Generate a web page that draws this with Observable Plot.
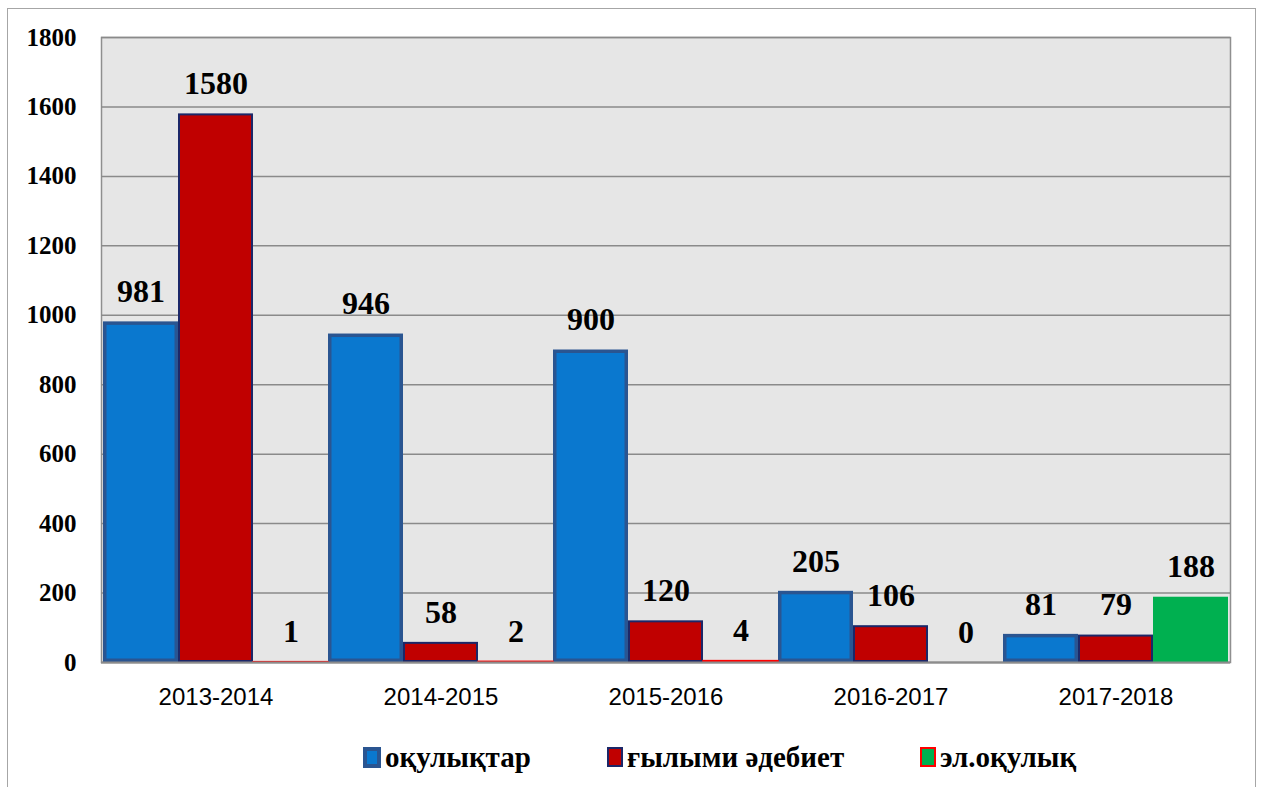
<!DOCTYPE html>
<html>
<head>
<meta charset="utf-8">
<script src="https://cdn.jsdelivr.net/npm/d3@7"></script>
<script src="https://cdn.jsdelivr.net/npm/@observablehq/plot@0.6"></script>
<style>
  html, body { margin: 0; padding: 0; background: #fff; }
  #wrap { position: relative; width: 1261px; height: 787px; overflow: hidden; }
  #border { position: absolute; left: 7px; top: 8px; width: 1249px; height: 800px; border: 1px solid #a6a6a6; box-sizing: border-box; }
  #chart { position: absolute; left: 0; top: 0; }
  #chart svg g[aria-label="y-axis tick label"],
  #chart svg g[aria-label="y-axis tick label"] text {
    font-family: "Liberation Serif", "Times New Roman", "DejaVu Serif", serif !important;
    font-weight: bold !important; font-size: 25px !important; fill: #000 !important;
  }
  #chart svg g[aria-label="x-axis tick label"],
  #chart svg g[aria-label="x-axis tick label"] text {
    font-family: "Liberation Sans", Arial, sans-serif !important;
    font-size: 24px !important; fill: #000 !important;
  }
  #legend { position: absolute; top: 741px; left: 0; width: 1261px; height: 32px; color: #000; }
  .item { position: absolute; top: 0; display: flex; align-items: center; height: 32px; white-space: nowrap; }
  .lbl { font-family: "Liberation Serif", "Times New Roman", "DejaVu Serif", serif; font-weight: bold; font-size: 29px; }
  .sw { display: inline-block; box-sizing: border-box; margin-right: 4px; }
</style>
</head>
<body>
<div id="wrap">
  <div id="border"></div>
  <div id="chart"></div>
  <div id="legend"></div>
</div>
<script>
const years = ["2013-2014", "2014-2015", "2015-2016", "2016-2017", "2017-2018"];
const seriesNames = ["оқулықтар", "ғылыми әдебиет", "эл.оқулық"];
const textbooks = [981, 946, 900, 205, 81];
const scientific = [1580, 58, 120, 106, 79];
const electronic = [1, 2, 4, 0, 188];
const yTicks = [0, 200, 400, 600, 800, 1000, 1200, 1400, 1600, 1800];

const fills = ["#0a78cf", "#c00000", "#00b050"];
const strokes = ["#2a5591", "#1c2768", "#ff0000"];

const valuesBySeries = [textbooks, scientific, electronic];
const data = [];
years.forEach((yr, i) => {
  seriesNames.forEach((s, j) => {
    data.push({year: yr, series: s, key: yr + "|" + s, value: valuesBySeries[j][i]});
  });
});
const keys = data.map(d => d.key);

const serif = "Liberation Serif, Times New Roman, DejaVu Serif, serif";

const chart = Plot.plot({
  width: 1261,
  height: 735,
  marginLeft: 101,
  marginRight: 31,
  marginTop: 37,
  marginBottom: 73,
  style: {background: "transparent"},
  x: {domain: keys, padding: 0, label: null, tickSize: 0, tickPadding: 25,
      tickFormat: k => k.endsWith("|" + seriesNames[1]) ? k.split("|")[0] : ""},
  y: {domain: [0, 1800], ticks: yTicks, label: null, tickSize: 0, tickPadding: 25,
      tickFormat: d => String(d)},
  marks: [
    Plot.frame({fill: "#e6e6e6", stroke: "#8f8f8f", strokeWidth: 1.5}),
    Plot.gridY(yTicks, {stroke: "#8a8a8a", strokeOpacity: 1, strokeWidth: 1.5}),
    Plot.barY(data.filter(d => d.series === seriesNames[0]), {
      x: "key", y: "value", fill: fills[0], stroke: strokes[0], strokeWidth: 3.5, inset: 1.75
    }),
    Plot.barY(data.filter(d => d.series === seriesNames[1]), {
      x: "key", y: "value", fill: fills[1], stroke: strokes[1], strokeWidth: 2, inset: 1
    }),
    Plot.barY(data.filter(d => d.series === seriesNames[2] && d.value >= 10), {
      x: "key", y: "value", fill: fills[2]
    }),
    Plot.barY(data.filter(d => d.series === seriesNames[2] && d.value < 10 && d.value > 0), {
      x: "key", y: "value", fill: fills[2], stroke: "#ff0000", strokeWidth: 1.5
    }),
    Plot.ruleY([0], {stroke: "#8c8c8c", strokeWidth: 2}),
    Plot.text(data, {
      x: "key", y: "value", text: d => String(d.value), dy: -30,
      fontFamily: serif, fontWeight: "bold", fontSize: 32, fill: "#000"
    })
  ]
});
document.getElementById("chart").appendChild(chart);

// legend
const legend = document.getElementById("legend");
const legendPos = [363, 607, 920];
const swatchStyles = [
  {w: 18, h: 21, bg: "#0a78cf", border: "4px solid #2a5591"},
  {w: 16, h: 20, bg: "#c00000", border: "2px solid #1c2768"},
  {w: 16, h: 20, bg: "#00b050", border: "2px solid #ff0000"}
];
seriesNames.forEach((s, i) => {
  const item = document.createElement("div");
  item.className = "item";
  item.style.left = legendPos[i] + "px";
  const sw = document.createElement("span");
  sw.className = "sw";
  sw.style.width = swatchStyles[i].w + "px";
  sw.style.height = swatchStyles[i].h + "px";
  sw.style.background = swatchStyles[i].bg;
  sw.style.border = swatchStyles[i].border;
  item.appendChild(sw);
  const t = document.createElement("span");
  t.className = "lbl";
  t.textContent = s;
  item.appendChild(t);
  legend.appendChild(item);
});
</script>
</body>
</html>
